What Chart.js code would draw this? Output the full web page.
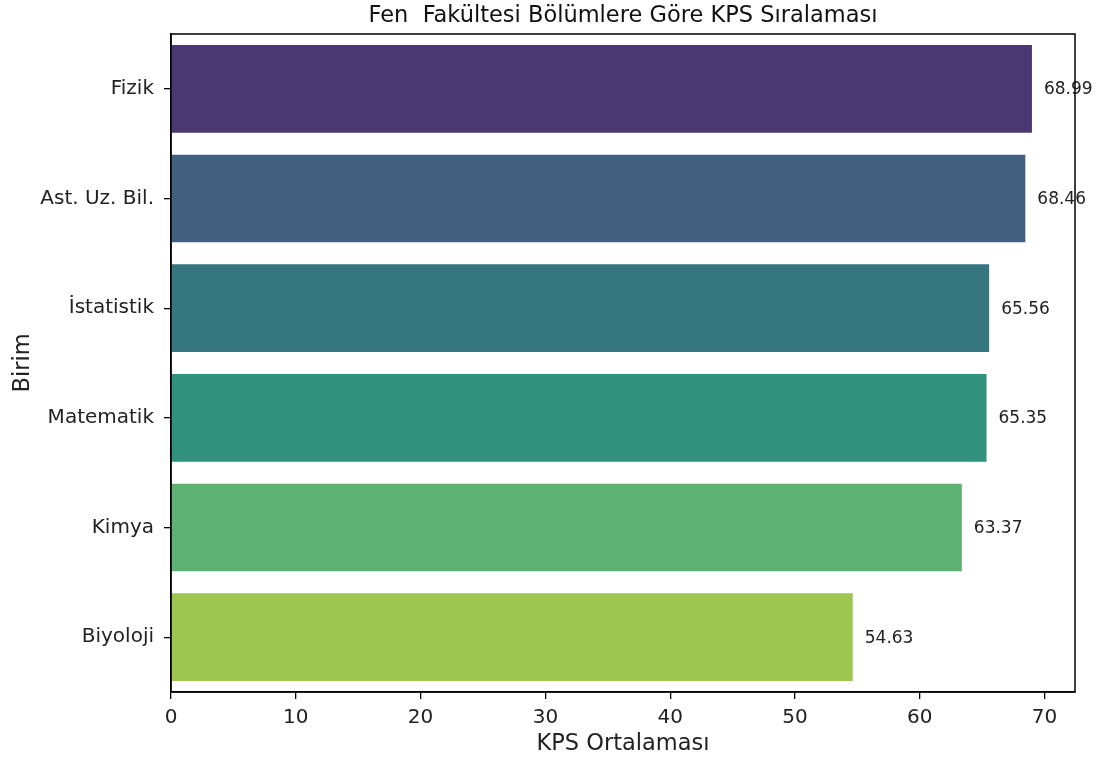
<!DOCTYPE html>
<html>
<head>
<meta charset="utf-8">
<script src="https://cdn.jsdelivr.net/npm/chart.js@4/dist/chart.umd.min.js"></script>
<style>
  html, body { margin: 0; padding: 0; background: #fff; }
  #wrap { width: 1109px; height: 758px; }
</style>
</head>
<body>
<div id="wrap"><canvas id="kpsChart"></canvas></div>
<script>
const birimler = ["Fizik", "Ast. Uz. Bil.", "İstatistik", "Matematik", "Kimya", "Biyoloji"];
const kpsOrt = [68.99, 68.46, 65.56, 65.35, 63.37, 54.63];
const renkler = ["#4a3873", "#425f80", "#35767f", "#30917d", "#5bb273", "#9cc64f"];
const xTicks = [0, 10, 20, 30, 40, 50, 60, 70];

const FONT = "'DejaVu Sans', sans-serif";

// writes the value next to each bar and the frame around the plot
const labelsPlugin = {
  id: "barLabels",
  afterDatasetsDraw(chart) {
    const ctx = chart.ctx;
    const meta = chart.getDatasetMeta(0);
    ctx.save();
    ctx.font = "17px " + FONT;
    ctx.fillStyle = "#222";
    ctx.textBaseline = "middle";
    ctx.textAlign = "left";
    meta.data.forEach((bar, i) => {
      ctx.fillText(kpsOrt[i].toFixed(2), bar.x + 12, bar.y + 1);
    });
    const a = chart.chartArea;
    ctx.strokeStyle = "#000";
    ctx.lineWidth = 1.5;
    ctx.strokeRect(a.left, a.top, a.right - a.left, a.bottom - a.top);
    ctx.restore();
  }
};

new Chart(document.getElementById("kpsChart"), {
  type: "bar",
  data: {
    labels: birimler,
    datasets: [{
      data: kpsOrt,
      backgroundColor: renkler,
      borderWidth: 0,
      categoryPercentage: 0.8,
      barPercentage: 1.0
    }]
  },
  options: {
    indexAxis: "y",
    responsive: true,
    maintainAspectRatio: false,
    animation: false,
    layout: { padding: { top: 0, right: 34, bottom: 0, left: 0 } },
    plugins: {
      legend: { display: false },
      tooltip: { enabled: false },
      title: {
        display: true,
        fullSize: false,
        text: "Fen  Fakültesi Bölümlere Göre KPS Sıralaması",
        color: "#111",
        font: { family: FONT, size: 22.5, weight: "normal" },
        padding: { top: 3, bottom: 4 }
      }
    },
    scales: {
      x: {
        min: 0,
        max: 72.44,
        afterBuildTicks(scale) {
          scale.ticks = xTicks.map(v => ({ value: v }));
        },
        afterFit(scale) { scale.height = 66; },
        ticks: {
          color: "#222",
          font: { family: FONT, size: 20 },
          padding: 7,
          maxRotation: 0
        },
        grid: { display: true, drawOnChartArea: false, drawTicks: true, tickLength: 7, color: "#000", lineWidth: 1.3 },
        border: { display: true, color: "#000", width: 1.5 },
        title: {
          display: true,
          text: "KPS Ortalaması",
          color: "#222",
          font: { family: FONT, size: 22.5 },
          padding: { top: 0, bottom: 0 }
        }
      },
      y: {
        afterFit(scale) { scale.width = 171; },
        ticks: {
          color: "#222",
          font: { family: FONT, size: 20 },
          padding: 10
        },
        grid: { display: true, drawOnChartArea: false, drawTicks: true, tickLength: 7, color: "#000", lineWidth: 1.3, offset: false },
        border: { display: true, color: "#000", width: 1.5 },
        title: {
          display: true,
          text: "Birim",
          color: "#222",
          font: { family: FONT, size: 22.5 },
          padding: { top: 10, bottom: 4 }
        }
      }
    }
  },
  plugins: [labelsPlugin]
});
</script>
</body>
</html>
